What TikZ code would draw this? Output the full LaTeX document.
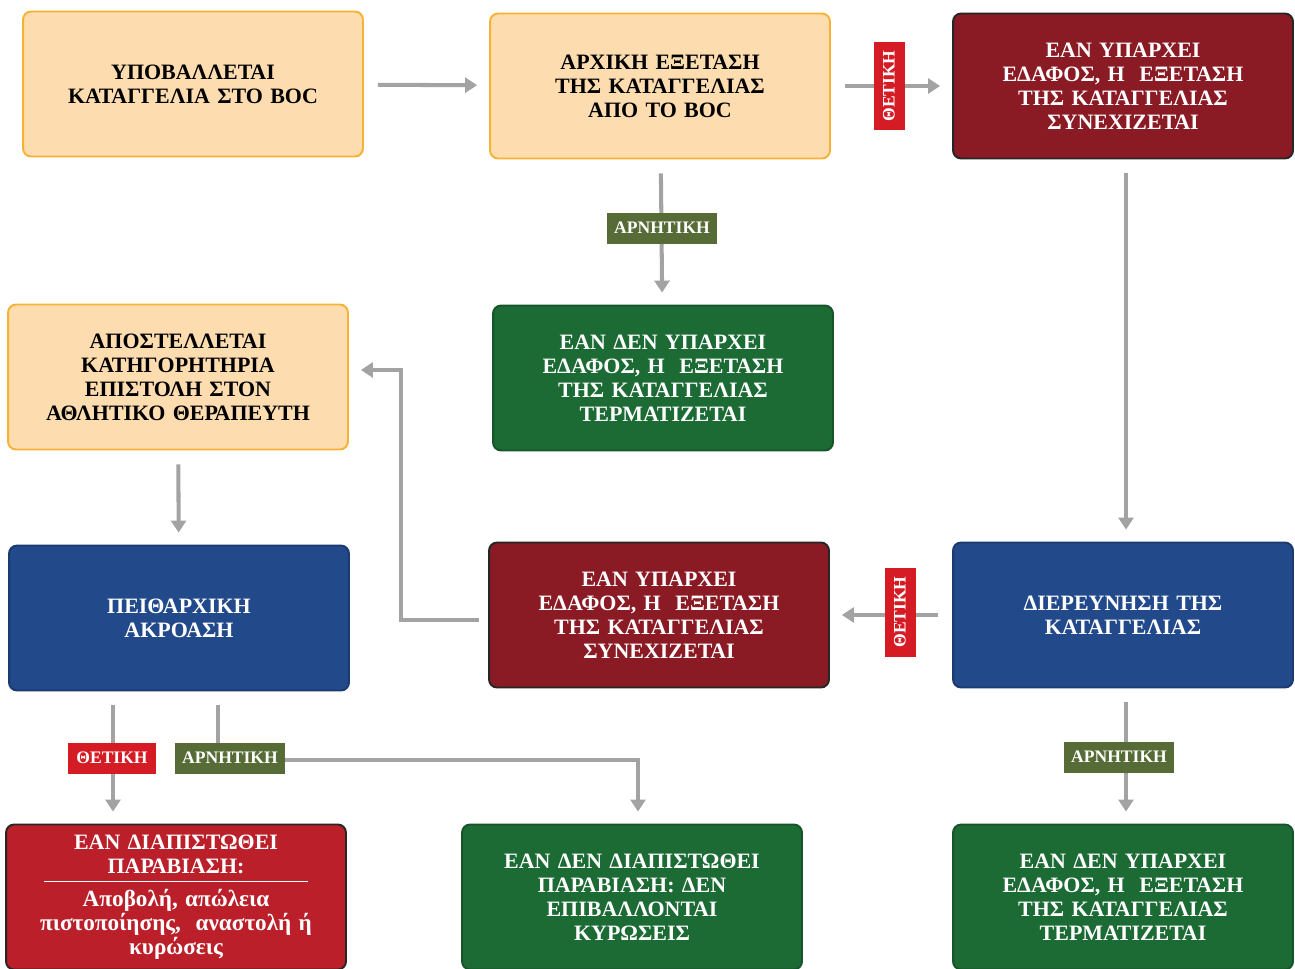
\documentclass[tikz,border=0pt]{standalone}
\usepackage{fontspec}
\setmainfont{Liberation Serif}
\usetikzlibrary{arrows.meta}

\begin{document}
\begin{tikzpicture}[x=0.02cm,y=-0.02cm,
		box/.style={rounded corners=0.16cm, line width=1.1pt, minimum height=2.9cm,
			text width=6.4cm, inner xsep=0.2cm, align=center,
			font=\bfseries\fontsize{12.5}{13.6}\selectfont},
		peachbox/.style={box, draw=peachline, fill=peach, text=black},
		winebox/.style={box, draw=black!85, fill=wine, text=white},
		greenbox/.style={box, draw=forest!80!black, fill=forest, text=white},
		bluebox/.style={box, draw=navy!80!black, fill=navy, text=white},
		redbox/.style={box, draw=black!85, fill=brick, text=white},
		conn/.style={draw=arrowgray, line width=2.3pt, shorten <=0.28cm, shorten >=0.24cm,
			-{Triangle[length=0.24cm,width=0.3cm]}},
		tag/.style={inner xsep=0.14cm, minimum height=0.62cm, text=white,
			font=\bfseries\fontsize{10}{10}\selectfont},
		yes/.style={tag, fill=tagred, minimum width=1.78cm},
		no/.style={tag, fill=olive}
	]

		\definecolor{peach}{HTML}{FDDDAF}
		\definecolor{peachline}{HTML}{F7B135}
		\definecolor{wine}{HTML}{8A1A24}
		\definecolor{forest}{HTML}{1C6A34}
		\definecolor{navy}{HTML}{22498A}
		\definecolor{brick}{HTML}{BB1F29}
		\definecolor{tagred}{HTML}{D51B24}
		\definecolor{olive}{HTML}{566B35}
		\definecolor{arrowgray}{HTML}{A3A3A3}

		\clip (0,0) rectangle (1295,968);
		%\draw[step=50,gray,very thin] (0,0) grid (1295,968);

		\node[peachbox] (submit) at (193,84) {ΥΠΟΒΑΛΛΕΤΑΙ\\ΚΑΤΑΓΓΕΛΙΑ ΣΤΟ BOC};
		\node[peachbox] (initial) at (660,86) {ΑΡΧΙΚΗ ΕΞΕΤΑΣΗ\\ΤΗΣ ΚΑΤΑΓΓΕΛΙΑΣ\\ΑΠΟ ΤΟ BOC};
		\node[winebox] (goon1) at (1123,86) {ΕΑΝ ΥΠΑΡΧΕΙ\\ΕΔΑΦΟΣ, Η~~ΕΞΕΤΑΣΗ\\ΤΗΣ ΚΑΤΑΓΓΕΛΙΑΣ\\ΣΥΝΕΧΙΖΕΤΑΙ};
		\node[greenbox] (stop1) at (663,378) {ΕΑΝ ΔΕΝ ΥΠΑΡΧΕΙ\\ΕΔΑΦΟΣ, Η~~ΕΞΕΤΑΣΗ\\ΤΗΣ ΚΑΤΑΓΓΕΛΙΑΣ\\ΤΕΡΜΑΤΙΖΕΤΑΙ};
		\node[peachbox] (letter) at (178,377) {ΑΠΟΣΤΕΛΛΕΤΑΙ\\ΚΑΤΗΓΟΡΗΤΗΡΙΑ\\ΕΠΙΣΤΟΛΗ ΣΤΟΝ\\ΑΘΛΗΤΙΚΟ ΘΕΡΑΠΕΥΤΗ};
		\node[bluebox] (hearing) at (179,618) {ΠΕΙΘΑΡΧΙΚΗ\\ΑΚΡΟΑΣΗ};
		\node[winebox] (goon2) at (659,615) {ΕΑΝ ΥΠΑΡΧΕΙ\\ΕΔΑΦΟΣ, Η~~ΕΞΕΤΑΣΗ\\ΤΗΣ ΚΑΤΑΓΓΕΛΙΑΣ\\ΣΥΝΕΧΙΖΕΤΑΙ};
		\node[bluebox] (probe) at (1123,615) {ΔΙΕΡΕΥΝΗΣΗ ΤΗΣ\\ΚΑΤΑΓΓΕΛΙΑΣ};
		\node[redbox] (breach) at (176,897) {ΕΑΝ ΔΙΑΠΙΣΤΩΘΕΙ\\ΠΑΡΑΒΙΑΣΗ:\\[-8.7pt]
			\rule{5.3cm}{0.6pt}\\[0.2pt]
			{\fontsize{13.2}{13.6}\selectfont Αποβολή, απώλεια\\πιστοποίησης,~~αναστολή ή\\κυρώσεις}};
		\node[greenbox] (clear) at (632,897) {ΕΑΝ ΔΕΝ ΔΙΑΠΙΣΤΩΘΕΙ\\ΠΑΡΑΒΙΑΣΗ: ΔΕΝ\\ΕΠΙΒΑΛΛΟΝΤΑΙ\\ΚΥΡΩΣΕΙΣ};
		\node[greenbox] (stop2) at (1123,897) {ΕΑΝ ΔΕΝ ΥΠΑΡΧΕΙ\\ΕΔΑΦΟΣ, Η~~ΕΞΕΤΑΣΗ\\ΤΗΣ ΚΑΤΑΓΓΕΛΙΑΣ\\ΤΕΡΜΑΤΙΖΕΤΑΙ};

		\draw[conn] (submit) -- (initial);
		\draw[conn] (initial) -- (goon1);
		\draw[conn] (initial) -- (stop1);
		\draw[conn] ([xshift=0.06cm]goon1.south) -- ([xshift=0.06cm]probe.north);
		\draw[conn] (probe) -- (goon2);
		\draw[conn, shorten <=0.18cm] ([yshift=-0.1cm]goon2.west) -- ++(-87,0) |- ([yshift=0.14cm]letter.east);
		\draw[conn] (letter) -- (hearing);
		\draw[conn] ([xshift=-1.32cm]hearing.south) -- ([xshift=-1.32cm]hearing.south |- breach.north);
		\draw[conn] ([xshift=0.78cm]hearing.south) -- ++(0,69) -| ([xshift=0.12cm]clear.north);
		\draw[conn] ([xshift=0.06cm]probe.south) -- ([xshift=0.06cm]stop2.north);

		\node[yes, rotate=90] (yes1) at (889,86) {ΘΕΤΙΚΗ};
		\node[no] (no1) at (662,228) {ΑΡΝΗΤΙΚΗ};
		\node[yes, rotate=90] (yes2) at (900,612) {ΘΕΤΙΚΗ};
		\node[yes] (yes3) at (112,758) {ΘΕΤΙΚΗ};
		\node[no] (no2) at (230,758) {ΑΡΝΗΤΙΚΗ};
		\node[no] (no3) at (1119,757) {ΑΡΝΗΤΙΚΗ};

	\end{tikzpicture}
\end{document}
